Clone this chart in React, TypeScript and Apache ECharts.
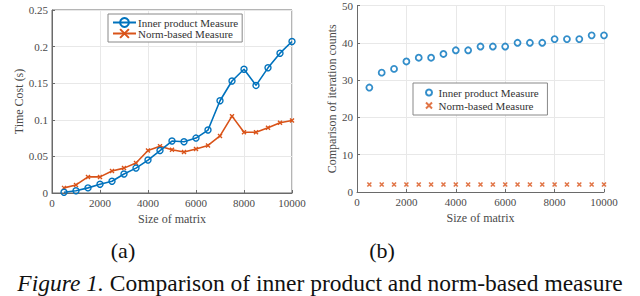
import React, { useEffect, useRef } from "react";
import * as echarts from "echarts";

const sizes = [500, 1000, 1500, 2000, 2500, 3000, 3500, 4000, 4500, 5000, 5500, 6000, 6500, 7000, 7500, 8000, 8500, 9000, 9500, 10000];
const innerTime = [0.001, 0.003, 0.007, 0.012, 0.016, 0.026, 0.034, 0.045, 0.058, 0.071, 0.070, 0.075, 0.086, 0.126, 0.153, 0.169, 0.147, 0.171, 0.191, 0.207];
const normTime = [0.007, 0.011, 0.022, 0.022, 0.030, 0.034, 0.041, 0.058, 0.064, 0.059, 0.056, 0.060, 0.065, 0.078, 0.105, 0.083, 0.083, 0.089, 0.096, 0.099];
const innerIter = [28, 32, 33, 35, 36, 36, 37, 38, 38, 39, 39, 39, 40, 40, 40, 41, 41, 41, 42, 42];
const normIter = [2, 2, 2, 2, 2, 2, 2, 2, 2, 2, 2, 2, 2, 2, 2, 2, 2, 2, 2, 2];
const seriesNames = ["Inner product Measure", "Norm-based Measure"];
const captionA = "(a)";
const captionB = "(b)";
const figureLabel = "Figure 1.";
const figureText = " Comparison of inner product and norm-based measure";

const BLUE = "#0072BD";
const ORANGE = "#D95319";
const FONT = "Liberation Serif";
const TXT = "#4a4a4a";
const AXIS = "#6a6a6a";
const GRIDC = "#e8e8e8";
const XMARK = "path://M0,0L10,10M10,0L0,10";

function axisCommon() {
  return {
    axisLine: { show: true, lineStyle: { color: AXIS, width: 1 } },
    axisTick: { show: true, inside: true, length: 3, lineStyle: { color: AXIS } },
    axisLabel: { color: TXT, fontFamily: FONT, fontSize: 11, margin: 4, formatter: (v: number) => String(v) },
    splitLine: { show: true, lineStyle: { color: GRIDC, width: 1 } },
    nameTextStyle: { color: TXT, fontFamily: FONT, fontSize: 12 },
    nameLocation: "middle" as const,
  };
}

export default function App() {
  const ref = useRef<HTMLDivElement>(null);
  useEffect(() => {
    if (!ref.current) return;
    const chart = echarts.init(ref.current, undefined, { renderer: "svg" });
    const pairs = (vals: number[]) => sizes.map((s, i) => [s, vals[i]]);
    chart.setOption({
      animation: false,
      backgroundColor: "#ffffff",
      textStyle: { fontFamily: FONT },
      grid: [
        { left: 52, top: 10, width: 240, height: 183, show: true, borderColor: AXIS, borderWidth: 1, backgroundColor: "transparent" },
        { left: 357, top: 3, width: 247, height: 189, show: false },
      ],
      xAxis: [
        { ...axisCommon(), gridIndex: 0, type: "value", min: 0, max: 10000, interval: 2000, name: "Size of matrix", nameGap: 19 },
        { ...axisCommon(), gridIndex: 1, type: "value", min: 0, max: 10000, interval: 2000, name: "Size of matrix", nameGap: 19 },
      ],
      yAxis: [
        { ...axisCommon(), gridIndex: 0, type: "value", min: 0, max: 0.25, interval: 0.05, name: "Time Cost (s)", nameGap: 26 },
        { ...axisCommon(), gridIndex: 1, type: "value", min: 0, max: 50, interval: 10, name: "Comparison of iteration counts", nameGap: 18 },
      ],
      legend: [
        {
          left: 108, top: 14, orient: "vertical", itemGap: 0, itemWidth: 23, itemHeight: 11,
          padding: [3, 4, 3, 4], borderColor: "#888", borderWidth: 1, backgroundColor: "#fff",
          textStyle: { fontFamily: FONT, fontSize: 11, color: "#333", padding: [0, 0, 0, -3] },
          data: [{ name: seriesNames[0] }, { name: seriesNames[1] }],
        },
        {
          left: 413, top: 83, orient: "vertical", itemGap: 2, itemWidth: 7, itemHeight: 6,
          padding: [4, 6, 4, 12], borderColor: "#888", borderWidth: 1, backgroundColor: "#fff",
          textStyle: { fontFamily: FONT, fontSize: 11, color: "#333", padding: [0, 0, 0, 1] },
          data: [{ name: seriesNames[0] + " " }, { name: seriesNames[1] + " " }],
        },
      ],
      series: [
        {
          name: seriesNames[0], type: "line", xAxisIndex: 0, yAxisIndex: 0, data: pairs(innerTime),
          symbol: "circle", symbolSize: 6, showAllSymbol: true,
          lineStyle: { color: BLUE, width: 1.6 },
          itemStyle: { color: "rgba(0,0,0,0)", borderColor: BLUE, borderWidth: 1.4 },
          z: 3,
        },
        {
          name: seriesNames[1], type: "line", xAxisIndex: 0, yAxisIndex: 0, data: pairs(normTime),
          symbol: XMARK, symbolSize: 4, showAllSymbol: true,
          lineStyle: { color: ORANGE, width: 1.6 },
          itemStyle: { color: ORANGE, borderColor: ORANGE, borderWidth: 1.4 },
          z: 2,
        },
        {
          name: seriesNames[0] + " ", type: "scatter", xAxisIndex: 1, yAxisIndex: 1, data: pairs(innerIter),
          symbol: "circle", symbolSize: 6,
          itemStyle: { color: "#fff", borderColor: BLUE, borderWidth: 1.8 },
        },
        {
          name: seriesNames[1] + " ", type: "scatter", xAxisIndex: 1, yAxisIndex: 1, data: pairs(normIter),
          symbol: XMARK, symbolSize: 4,
          itemStyle: { color: ORANGE, borderColor: ORANGE, borderWidth: 1.6 },
        },
      ],
      graphic: [
        { type: "text", x: 123, y: 250, style: { text: captionA, fontFamily: FONT, fontSize: 22, fill: "#111", align: "center", verticalAlign: "middle" } },
        { type: "text", x: 382, y: 250, style: { text: captionB, fontFamily: FONT, fontSize: 22, fill: "#111", align: "center", verticalAlign: "middle" } },
        {
          type: "text", x: 320, y: 283,
          style: {
            text: "{i|" + figureLabel + "}{n|" + figureText + "}",
            align: "center", verticalAlign: "middle",
            rich: {
              i: { fontFamily: FONT, fontSize: 23.5, fontStyle: "italic", fill: "#111" },
              n: { fontFamily: FONT, fontSize: 23.5, fill: "#111" },
            },
          },
        },
      ],
    });
    return () => chart.dispose();
  }, []);
  return <div ref={ref} style={{ position: "absolute", left: 0, top: 0, width: 640, height: 296 }} />;
}
